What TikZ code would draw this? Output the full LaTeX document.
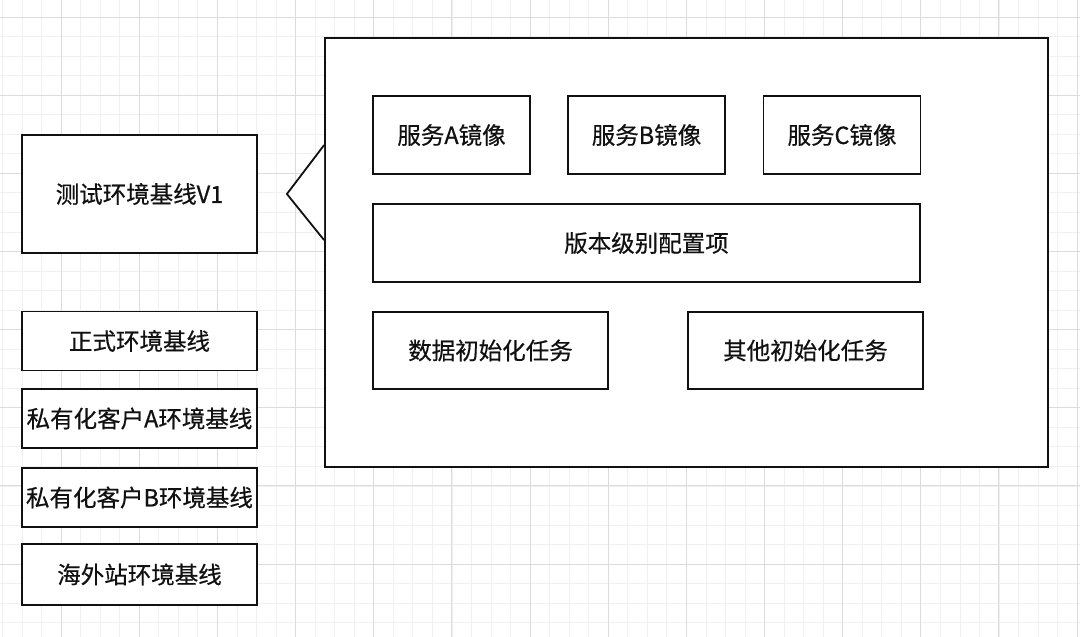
\documentclass[tikz,border=0pt]{standalone}
\usepackage{fontspec}
\usepackage{tikz}
\usepackage{xcolor}
\usetikzlibrary{positioning,calc}
\newfontfamily\cjk[FakeBold=0.5]{Noto Sans CJK SC}
\definecolor{ink}{HTML}{111111}
\definecolor{gridminor}{HTML}{F0F0F0}
\definecolor{gridmajor}{HTML}{DCDCDC}
\tikzset{
  envbox/.style={draw=ink,fill=white,line width=1.8pt,
                 minimum width=235,minimum height=59,
                 inner sep=1pt,align=center,text=ink,
                 font=\cjk\fontsize{23.5}{28}\selectfont},
  itembox/.style={draw=ink,fill=white,line width=1.8pt,
                  minimum height=78,inner sep=1pt,align=center,text=ink,
                  font=\cjk\fontsize{23.5}{28}\selectfont},
  outerbox/.style={draw=ink,fill=white,line width=1.8pt,
                   minimum width=723,minimum height=429,inner sep=0pt},
  minorline/.style={draw=gridminor,line width=0.9pt},
  majorline/.style={draw=gridmajor,line width=1pt}
}

\begin{document}
\begin{tikzpicture}[x=1pt,y=-1pt]
  \useasboundingbox[fill=white] (0,0) rectangle (1080,637);
  % grid
  \foreach \i in {0,...,57}{
    \draw[minorline] ({-17+\i*19.54},0) -- ++(0,637);
  }
  \foreach \i in {0,...,34}{
    \draw[minorline] (0,{-2.5+\i*19.54}) -- ++(1080,0);
  }
  \foreach \i in {0,...,14}{
    \draw[majorline] ({-17+\i*78.15},0) -- ++(0,637);
  }
  \foreach \i in {0,...,8}{
    \draw[majorline] (0,{17+\i*78.15}) -- ++(1080,0);
  }

  % left column: environment baselines
  \node[envbox,minimum height=118] (test) at (139.5,194) {测试环境基线V1};
  \node[envbox] (prod) at (139.5,341) {正式环境基线};
  \node[envbox] (cusA) at (139.5,418.5) {私有化客户A环境基线};
  \node[envbox] (cusB) at (139.5,497.5) {私有化客户B环境基线};
  \node[envbox,minimum height=61] (oversea) at (139.5,574.5) {海外站环境基线};

  % baseline content
  \node[outerbox] (outer) at (686.5,252.5) {};
  \coordinate (calltop) at ($(outer.north west)+(0,108)$);
  \coordinate (callbot) at ($(outer.north west)+(0,203)$);
  \coordinate (calltip) at ($(test.east)+(29,0)$);
  \filldraw[draw=ink,fill=white,line width=1.8pt,line join=miter]
    (calltop) -- (calltip) -- (callbot);

  \node[itembox,minimum width=157] (svcA) at (451.5,135) {服务A镜像};
  \node[itembox,minimum width=157] (svcB) at (646.5,135) {服务B镜像};
  \node[itembox,minimum width=157] (svcC) at (842,135) {服务C镜像};
  \node[itembox,minimum width=547] (conf) at (646.5,243) {版本级别配置项};
  \node[itembox,minimum width=235,minimum height=77] (dataInit) at (490.5,350.5) {数据初始化任务};
  \node[itembox,minimum width=235,minimum height=77] (otherInit) at (805.5,350.5) {其他初始化任务};
\end{tikzpicture}
\end{document}
